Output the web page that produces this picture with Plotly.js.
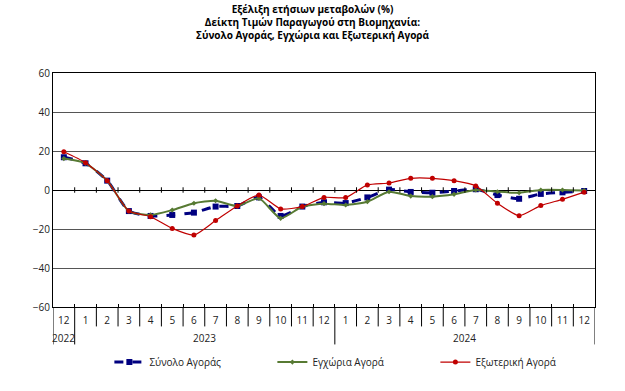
<!DOCTYPE html>
<html>
<head>
<meta charset="utf-8">
<script src="https://cdn.plot.ly/plotly-3.0.1.min.js"></script>
<style>html,body{margin:0;padding:0;background:#fff;}#chart{width:625px;height:391px;}</style>
</head>
<body>
<div id="chart"></div>
<script>
const categories = ['2022-12','2023-01','2023-02','2023-03','2023-04','2023-05','2023-06','2023-07','2023-08','2023-09','2023-10','2023-11','2023-12','2024-01','2024-02','2024-03','2024-04','2024-05','2024-06','2024-07','2024-08','2024-09','2024-10','2024-11','2024-12'];
const monthLabels = ['12','1','2','3','4','5','6','7','8','9','10','11','12','1','2','3','4','5','6','7','8','9','10','11','12'];
const years = ['2022','2023','2024'];
const yearFirstIdx = [0, 1, 13];
const yearLastIdx = [0, 12, 24];

const totalMarket = [16.8,13.7,4.8,-10.8,-13.3,-12.8,-11.6,-8.5,-8.2,-3.8,-13.3,-8.5,-6.3,-6.7,-3.8,0.2,-1.0,-1.4,-0.5,0.4,-2.6,-4.5,-2.0,-1.2,-0.5];
const domesticMarket = [16.1,13.7,4.8,-10.8,-12.8,-10.3,-6.8,-5.5,-8.2,-4.3,-14.5,-8.5,-7.0,-7.7,-6.0,-0.9,-3.1,-3.4,-2.2,0.0,-0.9,-1.4,0.0,0.0,-0.3];
const externalMarket = [19.6,14.0,4.8,-10.8,-13.7,-19.7,-23.1,-15.7,-8.2,-2.6,-9.7,-8.5,-3.8,-3.9,2.6,3.6,6.0,6.0,4.8,2.1,-6.8,-13.2,-8.0,-4.8,-1.1];

const FONT = 'Open Sans, sans-serif';

const traces = [
  {x: categories, y: totalMarket, name: 'Σύνολο Αγοράς', type: 'scatter', mode: 'lines+markers',
   line: {color: '#000080', width: 3, dash: 'dash', shape: 'spline', smoothing: 0.6},
   marker: {symbol: 'square', size: 6, color: '#000080'}},
  {x: categories, y: domesticMarket, name: 'Εγχώρια Αγορά', type: 'scatter', mode: 'lines+markers',
   line: {color: '#577a33', width: 2, shape: 'spline', smoothing: 0.6},
   marker: {symbol: 'diamond', size: 4, color: '#577a33'}},
  {x: categories, y: externalMarket, name: 'Εξωτερική Αγορά', type: 'scatter', mode: 'lines+markers',
   line: {color: '#c00000', width: 1.2, shape: 'spline', smoothing: 0.6},
   marker: {symbol: 'circle', size: 5, color: '#c00000'}}
];

const shapes = [];
// zero line crossing ticks at category boundaries
for (let i = 1; i < categories.length; i++) {
  shapes.push({type: 'line', xref: 'x', yref: 'y', x0: i - 0.5, x1: i - 0.5, y0: -1.4, y1: 1.4,
    line: {color: '#000', width: 1}});
}
// month separators below plot
for (let i = 0; i <= categories.length; i++) {
  const isYearEdge = (i === 0 || i === categories.length || yearFirstIdx.includes(i));
  shapes.push({type: 'line', xref: 'x', yref: 'paper', x0: i - 0.5, x1: i - 0.5, y0: 0, y1: isYearEdge ? -0.16 : -0.083,
    line: {color: '#000', width: 1}});
}

const annotations = years.map((yr, k) => ({
  text: yr, xref: 'x', yref: 'paper', x: (yearFirstIdx[k] + yearLastIdx[k]) / 2, y: -0.133,
  showarrow: false, font: {family: FONT, size: 10, color: '#222'}, xanchor: 'center', yanchor: 'middle'
}));

const layout = {
  width: 625, height: 391,
  margin: {l: 53, r: 30, t: 73, b: 84},
  paper_bgcolor: '#fff', plot_bgcolor: '#fff',
  font: {family: FONT, size: 10, color: '#222'},
  title: {text: '<b>Εξέλιξη ετήσιων μεταβολών (%)<br>Δείκτη Τιμών Παραγωγού στη Βιομηχανία:<br>Σύνολο Αγοράς, Εγχώρια και Εξωτερική Αγορά</b>',
    font: {family: FONT, size: 10, color: '#000'}, x: 0.5, xanchor: 'center', y: 0.968, yanchor: 'top', yref: 'container'},
  xaxis: {type: 'category', categoryorder: 'array', categoryarray: categories,
    tickmode: 'array', tickvals: categories, ticktext: monthLabels, tickson: 'boundaries',
    ticks: 'inside', ticklen: 3, tickcolor: '#000', showgrid: false, zeroline: false,
    showline: true, linecolor: '#000', linewidth: 1, mirror: true, automargin: false,
    range: [-0.5, categories.length - 0.5], tickfont: {family: FONT, size: 10, color: '#222'}, ticklabelstandoff: 4},
  yaxis: {range: [-60, 60], dtick: 20, tickmode: 'linear', showgrid: true, gridcolor: '#555', gridwidth: 1,
    zeroline: true, zerolinecolor: '#000', zerolinewidth: 1, automargin: false,
    showline: true, linecolor: '#000', linewidth: 1, mirror: true, ticks: '',
    tickfont: {family: FONT, size: 10, color: '#222'}},
  showlegend: true,
  legend: {orientation: 'h', xref: 'container', yref: 'container', x: 0.175, y: 0.074, xanchor: 'left', yanchor: 'middle',
    entrywidth: 118, entrywidthmode: 'pixels', font: {family: FONT, size: 10, color: '#222'},
    itemwidth: 30, bgcolor: 'rgba(0,0,0,0)'},
  shapes: shapes,
  annotations: annotations
};

Plotly.newPlot('chart', traces, layout, {displayModeBar: false, staticPlot: true});
</script>
</body>
</html>
